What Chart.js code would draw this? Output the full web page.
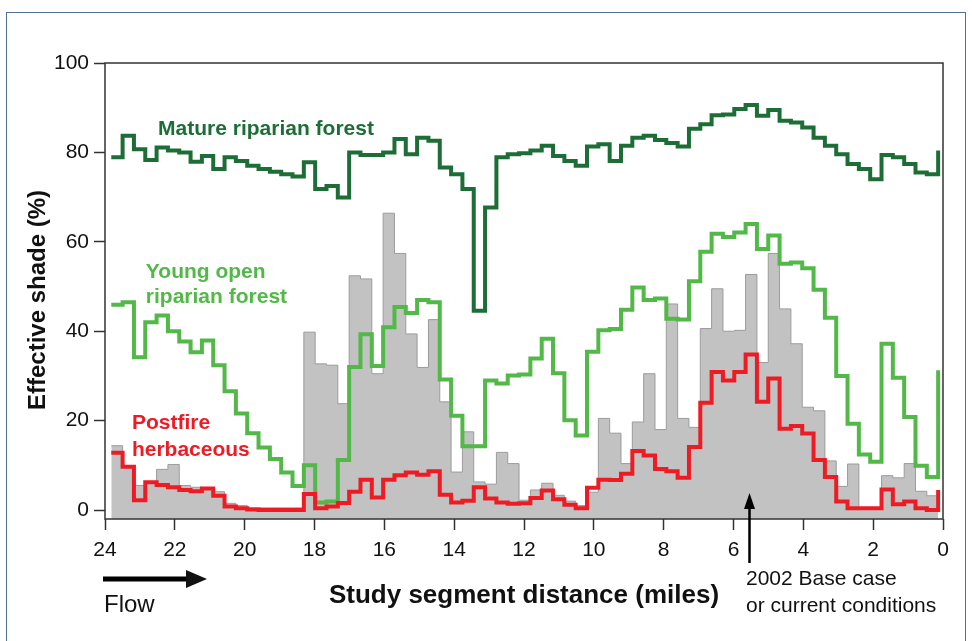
<!DOCTYPE html>
<html>
<head>
<meta charset="utf-8">
<script src="https://cdn.jsdelivr.net/npm/chart.js@4.4.1/dist/chart.umd.min.js"></script>
<style>
  html, body { margin: 0; padding: 0; background: #fff; }
  body { width: 972px; height: 641px; overflow: hidden; position: relative; }
  #frame { position: absolute; left: 6px; top: 12px; width: 960px; height: 700px; border: 1.5px solid #4f7196; box-sizing: border-box; }
  #wrap { position: absolute; left: 0; top: 0; }
</style>
</head>
<body>
<div id="frame"></div>
<div id="wrap"><canvas id="chart" width="972" height="641"></canvas></div>
<script>
// ---------- Data ----------
// bins run from upstream (24 mi) to downstream (0 mi)
const segStart = 23.82;   // first bin edge, miles
const segWidth = 0.3244;  // bin width, miles
const xTicks = [24, 22, 20, 18, 16, 14, 12, 10, 8, 6, 4, 2, 0];
const yTicks = [0, 20, 40, 60, 80, 100];

// 2002 base case (grey bars)
const baseCase = [
  14.4, 9.5, 5.5, 6.0, 9.1, 10.2, 5.5, 5.1, 4.8, 4.1,
  1.5, 1.0, 0.5, 0.5, 0.5, 0.5, 0.5, 39.8, 32.7, 32.4,
  23.8, 52.4, 51.7, 30.5, 66.4, 57.4, 39.4, 31.9, 42.6, 24.2,
  8.5, 17.5, 6.3, 5.8, 12.9, 10.4, 2.2, 4.5, 6.0, 3.3,
  2.0, 1.0, 4.0, 20.5, 17.2, 10.4, 19.7, 30.5, 18.0, 46.1,
  20.5, 18.5, 40.6, 49.5, 40.0, 40.2, 52.7, 33.0, 57.4, 45.0,
  37.2, 23.0, 22.2, 11.0, 5.3, 10.3, 0.4, 0.4, 7.7, 7.2,
  10.4, 4.2, 3.2
];

const mature = [
  78.9, 83.7, 80.7, 78.3, 81.1, 80.4, 80.0, 77.9, 79.2, 76.3,
  78.9, 78.1, 77.0, 76.3, 75.7, 75.1, 74.6, 77.8, 71.8, 72.5,
  69.9, 80.0, 79.4, 79.4, 80.0, 83.0, 79.6, 83.3, 82.6, 76.6,
  75.1, 71.8, 44.6, 67.7, 78.9, 79.6, 79.8, 80.4, 81.5, 79.2,
  78.1, 77.0, 81.3, 81.8, 78.1, 81.5, 83.3, 83.7, 82.8, 82.1,
  81.3, 85.3, 86.3, 88.3, 88.5, 89.7, 90.6, 88.2, 89.5, 87.1,
  86.7, 85.6, 83.3, 81.5, 79.6, 77.4, 76.3, 74.0, 79.4, 78.9,
  77.4, 75.5, 75.1
];
const matureEnd = 80.4;

const youngOpen = [
  45.9, 46.5, 34.2, 42.0, 43.5, 40.0, 37.7, 35.3, 37.9, 32.4,
  26.6, 21.6, 17.2, 14.0, 11.4, 8.4, 5.4, 10.0, 1.7, 1.9,
  11.2, 32.0, 39.3, 32.2, 40.9, 45.4, 44.1, 47.0, 46.5, 29.2,
  21.1, 14.3, 14.3, 29.0, 28.3, 30.1, 30.3, 33.9, 38.3, 30.6,
  20.1, 16.7, 35.4, 40.2, 40.5, 44.8, 49.8, 47.0, 47.3, 42.8,
  42.6, 51.2, 57.8, 61.8, 61.1, 62.1, 64.0, 58.4, 61.4, 55.1,
  55.4, 54.1, 49.3, 43.0, 30.0, 19.3, 12.4, 10.8, 37.2, 29.6,
  20.8, 9.9, 7.4
];
const youngOpenEnd = 31.3;

const postfire = [
  12.8, 9.7, 2.2, 6.2, 5.6, 5.1, 4.5, 4.2, 4.8, 3.2,
  0.8, 0.4, 0.1, 0.0, 0.0, 0.0, 0.0, 3.6, 0.4, 0.8,
  1.6, 4.1, 6.8, 2.8, 6.8, 7.8, 8.4, 7.9, 8.7, 3.4,
  1.7, 2.1, 5.1, 2.6, 1.7, 1.4, 1.5, 2.7, 4.4, 2.4,
  1.2, 0.4, 5.0, 6.8, 6.7, 8.1, 13.2, 12.2, 9.2, 8.7,
  7.2, 14.1, 24.0, 30.9, 29.0, 30.9, 34.8, 24.2, 29.4, 18.2,
  18.8, 17.1, 11.2, 7.4, 1.9, 0.4, 0.4, 0.4, 4.6, 1.3,
  1.9, 0.4, 0.0
];
const postfireEnd = 4.5;

// ---------- Styles ----------
const FONT = '"Liberation Sans", Arial, Helvetica, sans-serif';
const DARK_GREEN = "#1d6e36";
const LIGHT_GREEN = "#52b848";
const RED = "#ed1c24";
const AXIS = "#333333";

// ---------- Helpers ----------
function toSteps(values, endValue) {
  const pts = values.map((v, i) => ({ x: segStart - i * segWidth, y: v }));
  pts.push({ x: segStart - values.length * segWidth, y: endValue });
  return pts;
}

function stepLine(label, values, endValue, color) {
  return {
    label,
    data: toSteps(values, endValue),
    borderColor: color,
    borderWidth: 4,
    borderJoinStyle: "miter",
    stepped: true,
    pointRadius: 0,
    fill: false
  };
}

// ---------- Annotations ----------
const overlay = {
  id: "overlay",
  afterDraw(chart) {
    const { ctx, chartArea: a, scales } = chart;
    const x = scales.x, y = scales.y;
    ctx.save();

    // plot box
    ctx.strokeStyle = AXIS;
    ctx.lineWidth = 1.5;
    ctx.strokeRect(a.left, a.top, a.right - a.left, a.bottom - a.top);

    // series labels
    ctx.textBaseline = "middle";
    ctx.textAlign = "left";
    ctx.font = "bold 21px " + FONT;
    ctx.fillStyle = DARK_GREEN;
    ctx.fillText("Mature riparian forest", x.getPixelForValue(22.48), y.getPixelForValue(85.2));
    ctx.fillStyle = LIGHT_GREEN;
    ctx.fillText("Young open", x.getPixelForValue(22.83), y.getPixelForValue(53.3));
    ctx.fillText("riparian forest", x.getPixelForValue(22.83), y.getPixelForValue(47.6));
    ctx.fillStyle = RED;
    ctx.fillText("Postfire", x.getPixelForValue(23.23), y.getPixelForValue(19.4));
    ctx.fillText("herbaceous", x.getPixelForValue(23.23), y.getPixelForValue(13.4));

    // base case arrow
    const ax = Math.round(x.getPixelForValue(5.56)) + 0.5;
    ctx.strokeStyle = "#000";
    ctx.fillStyle = "#000";
    ctx.lineWidth = 2.5;
    ctx.beginPath();
    ctx.moveTo(ax, 563);
    ctx.lineTo(ax, 504);
    ctx.stroke();
    ctx.beginPath();
    ctx.moveTo(ax, 493);
    ctx.lineTo(ax - 5.5, 509);
    ctx.lineTo(ax + 5.5, 509);
    ctx.closePath();
    ctx.fill();

    ctx.font = "21px " + FONT;
    ctx.fillStyle = "#111";
    ctx.fillText("2002 Base case", 746, 579);
    ctx.fillText("or current conditions", 746, 606);

    // flow arrow
    ctx.lineWidth = 5;
    ctx.beginPath();
    ctx.moveTo(103, 579);
    ctx.lineTo(190, 579);
    ctx.stroke();
    ctx.beginPath();
    ctx.moveTo(207, 579);
    ctx.lineTo(186, 570);
    ctx.lineTo(186, 588);
    ctx.closePath();
    ctx.fill();
    ctx.font = "24px " + FONT;
    ctx.fillText("Flow", 104, 605);

    // axis titles
    ctx.font = "bold 26px " + FONT;
    ctx.textAlign = "center";
    ctx.fillText("Study segment distance (miles)", (a.left + a.right) / 2, 596);
    ctx.save();
    ctx.translate(38, 300);
    ctx.rotate(-Math.PI / 2);
    ctx.font = "bold 24px " + FONT;
    ctx.fillText("Effective shade (%)", 0, 0);
    ctx.restore();

    ctx.restore();
  }
};

// ---------- Chart ----------
new Chart(document.getElementById("chart"), {
  type: "line",
  data: {
    datasets: [
      stepLine("Postfire herbaceous", postfire, postfireEnd, RED),
      stepLine("Young open riparian forest", youngOpen, youngOpenEnd, LIGHT_GREEN),
      stepLine("Mature riparian forest", mature, matureEnd, DARK_GREEN),
      {
        label: "2002 Base case",
        data: toSteps(baseCase, baseCase[baseCase.length - 1]),
        borderColor: "#9c9c9c",
        borderWidth: 1,
        backgroundColor: "#c2c2c2",
        stepped: true,
        pointRadius: 0,
        fill: "start"
      }
    ]
  },
  options: {
    responsive: false,
    animation: false,
    layout: { padding: { top: 63, right: 29, left: 0, bottom: 0 } },
    plugins: { legend: { display: false }, tooltip: { enabled: false } },
    scales: {
      x: {
        type: "linear",
        reverse: true,
        min: 0,
        max: 24,
        afterBuildTicks: (s) => { s.ticks = xTicks.map((v) => ({ value: v })); },
        afterFit: (s) => { s.height = 122; },
        border: { display: false },
        grid: { drawOnChartArea: false, tickLength: 11, tickColor: AXIS, tickWidth: 1.5 },
        ticks: { color: "#111", font: { family: FONT, size: 21 }, padding: 8, maxRotation: 0, minRotation: 0, autoSkip: false }
      },
      y: {
        min: -2,
        max: 100,
        afterBuildTicks: (s) => { s.ticks = yTicks.map((v) => ({ value: v })); },
        afterFit: (s) => { s.width = 105; },
        border: { display: false },
        grid: { drawOnChartArea: false, tickLength: 11, tickColor: AXIS, tickWidth: 1.5 },
        ticks: { color: "#111", font: { family: FONT, size: 21 }, padding: 5 }
      }
    }
  },
  plugins: [overlay]
});
</script>
</body>
</html>
